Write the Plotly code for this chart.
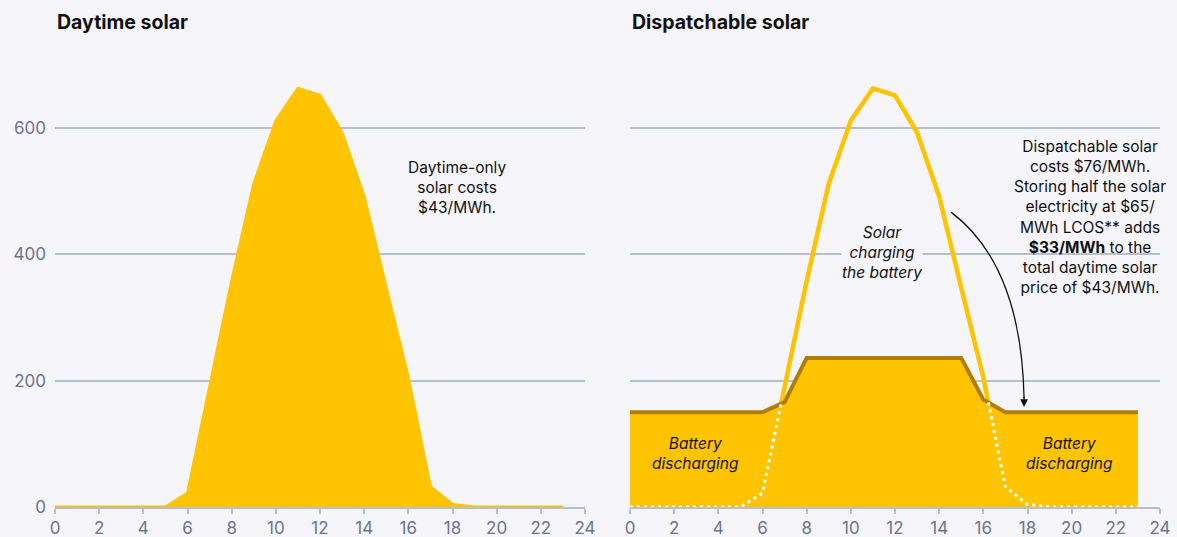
import plotly.graph_objects as go

hours = list(range(24))
solar = [0, 0, 0, 0, 0, 0, 22, 190, 358, 512, 612, 663, 652, 593, 492, 347, 205, 32, 4, 0, 0, 0, 0, 0]
dispatch = [150, 150, 150, 150, 150, 150, 150, 166, 236, 236, 236, 236, 236, 236, 236, 236, 170, 150, 150, 150, 150, 150, 150, 150]
x_ticks = list(range(0, 25, 2))
y_ticks = [0, 200, 400, 600]

BG = "#F5F5FA"
YEL = "#FFC400"
DARK = "#B07E00"
GRID = "#B9BECD"
TICKC = "#6B7591"
FONT = "Inter"
NOTE = 15.5


def below_segments(h, s, d):
    """Solar path where it lies under the dispatch curve, with crossings."""
    xs, ys = [], []
    for i in range(len(h)):
        if s[i] <= d[i]:
            xs.append(h[i]); ys.append(s[i])
        if i < len(h) - 1:
            a, b = s[i] - d[i], s[i + 1] - d[i + 1]
            if a * b < 0:
                t = a / (a - b)
                xc = h[i] + t * (h[i + 1] - h[i])
                yc = s[i] + t * (s[i + 1] - s[i])
                xs.append(xc); ys.append(yc)
                if a < 0:
                    xs.append(None); ys.append(None)
    return xs, ys


fig = go.Figure()

# Left: daytime solar
fig.add_trace(go.Scatter(x=hours, y=solar, mode="lines", fill="tozeroy",
                         fillcolor=YEL, line=dict(color=YEL, width=3),
                         xaxis="x", yaxis="y", hoverinfo="skip"))

# Right: solar line first, then dispatch fill covering its lower part
fig.add_trace(go.Scatter(x=hours, y=solar, mode="lines",
                         line=dict(color=YEL, width=4.5),
                         xaxis="x2", yaxis="y2", hoverinfo="skip"))
fig.add_trace(go.Scatter(x=hours, y=dispatch, mode="lines", fill="tozeroy",
                         fillcolor=YEL, line=dict(color=YEL, width=0.1),
                         xaxis="x2", yaxis="y2", hoverinfo="skip"))
fig.add_trace(go.Scatter(x=hours, y=dispatch, mode="lines",
                         line=dict(color=DARK, width=4),
                         xaxis="x2", yaxis="y2", hoverinfo="skip"))
bx, by = below_segments(hours, solar, dispatch)
fig.add_trace(go.Scatter(x=bx, y=by, mode="lines", connectgaps=False,
                         line=dict(color="white", width=3, dash="3px,4px"),
                         xaxis="x2", yaxis="y2", hoverinfo="skip"))

xa = dict(range=[0, 24], tickvals=x_ticks, showgrid=False, zeroline=False,
          showline=True, linecolor=GRID, linewidth=2, ticks="outside",
          ticklen=5, tickcolor=GRID, tickwidth=1.5, automargin=False,
          tickfont=dict(family=FONT, size=17, color=TICKC), fixedrange=True)
ya = dict(range=[0, 700], tickvals=y_ticks, showgrid=True, gridcolor=GRID,
          gridwidth=2, zeroline=False, showline=False, ticks="", automargin=False,
          tickfont=dict(family=FONT, size=17, color=TICKC), fixedrange=True)

fig.update_layout(
    width=1177, height=537, autosize=False,
    margin=dict(l=55, r=17, t=65, b=30),
    paper_bgcolor=BG, plot_bgcolor=BG,
    showlegend=False,
    xaxis=dict(xa, domain=[0, 530 / 1105], anchor="y"),
    yaxis=dict(ya, anchor="x", ticklabelstandoff=8),
    xaxis2=dict(xa, domain=[575 / 1105, 1], anchor="y2"),
    yaxis2=dict(ya, anchor="x2", showticklabels=False),
    font=dict(family=FONT, color="#111111"),
)

ann = []
ann.append(dict(text="<b>Daytime solar</b>", xref="x domain", yref="paper",
                x=0, y=(507 - 22) / 442, xanchor="left", yanchor="middle",
                showarrow=False, font=dict(family=FONT, size=19.5, color="#111")))
ann.append(dict(text="<b>Dispatchable solar</b>", xref="x2 domain", yref="paper",
                x=0, y=(507 - 22) / 442, xanchor="left", yanchor="middle",
                showarrow=False, font=dict(family=FONT, size=19.5, color="#111")))
ann.append(dict(text="Daytime-only<br>solar costs<br>$43/MWh.", xref="x", yref="y",
                x=18.2, y=506, showarrow=False, align="center",
                font=dict(family=FONT, size=NOTE, color="#111")))
ann.append(dict(text="Dispatchable solar<br>costs $76/MWh.<br>Storing half the solar<br>"
                     "electricity at $65/<br>MWh LCOS** adds<br><b>$33/MWh</b> to the<br>"
                     "total daytime solar<br>price of $43/MWh.",
                xref="x2", yref="y2", x=20.85, y=460, showarrow=False, align="center",
                font=dict(family=FONT, size=NOTE, color="#111")))
ann.append(dict(text="<i>Solar<br>charging<br>the battery</i>", xref="x2", yref="y2",
                x=11.4, y=403, showarrow=False, align="center", bgcolor=BG, borderpad=0,
                font=dict(family=FONT, size=NOTE, color="#111")))
ann.append(dict(text="<i>Battery<br>discharging</i>", xref="x2", yref="y2",
                x=2.95, y=84, showarrow=False, align="center",
                font=dict(family=FONT, size=NOTE, color="#111")))
ann.append(dict(text="<i>Battery<br>discharging</i>", xref="x2", yref="y2",
                x=19.9, y=84, showarrow=False, align="center",
                font=dict(family=FONT, size=NOTE, color="#111")))


def px2d(px, py):
    return (px - 630) / 22.08, (507 - py) / 0.6317


p0 = px2d(951, 212); c1 = px2d(992, 243); c2 = px2d(1022, 300); p1 = px2d(1024, 398)
path = f"M {p0[0]},{p0[1]} C {c1[0]},{c1[1]} {c2[0]},{c2[1]} {p1[0]},{p1[1]}"
fig.add_shape(type="path", path=path, xref="x2", yref="y2",
              line=dict(color="#111", width=1.3))
end = px2d(1024, 407)
ann.append(dict(text="", xref="x2", yref="y2", x=end[0], y=end[1], ax=0, ay=-12,
                showarrow=True, arrowhead=2, arrowsize=1.2, arrowwidth=1.3,
                arrowcolor="#111"))

fig.update_layout(annotations=ann)
fig.write_html("out.html",
               config={"responsive": False, "displayModeBar": False},
               post_script="document.body.style.margin='0';document.body.style.overflow='hidden';"
                           "document.body.style.background='%s';" % BG)
